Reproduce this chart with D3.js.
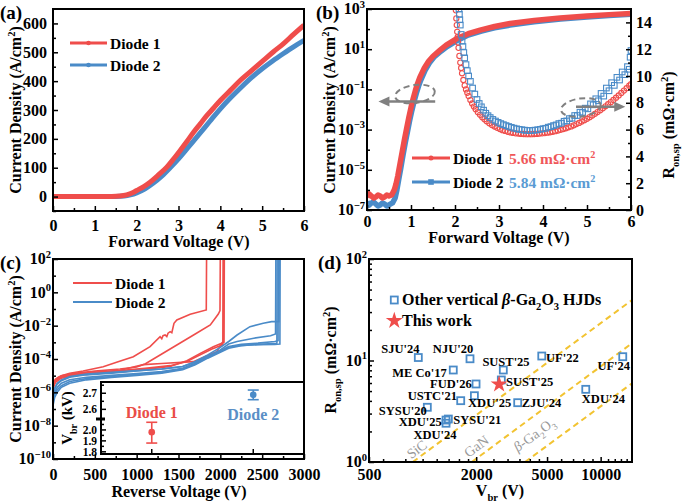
<!DOCTYPE html>
<meta charset="utf-8">
<script src="https://d3js.org/d3.v7.min.js"></script>
<style>
  body { margin: 0; background: #fff; }
  svg text { font-family: "Liberation Serif", "Times New Roman", serif; font-weight: bold; }
</style>
<div id="my_dataviz"></div>
<script>

// ================= data =================
// (a) forward J-V, linear scale  [V, J (A/cm2)]
var fwdD1 = [[0,0],[0.5,0],[1.0,0],[1.4,0.5],[1.6,2],[1.76,6],[1.9,13],[2.0,21],[2.16,34],[2.32,50],[2.52,75],[2.72,102],[2.88,130],[3.04,160],[3.2,191],[3.36,223],[3.52,252],[3.68,281],[3.84,307],[4.0,333],[4.24,368],[4.48,403],[4.76,438],[5.03,472],[5.27,502],[5.51,530],[5.75,562],[6.0,594]];
var fwdD2 = [[0,0],[0.5,0],[1.0,0],[1.5,0.3],[1.7,2],[1.85,6],[2.0,13],[2.2,27],[2.4,47],[2.6,71],[2.8,100],[3.0,131],[3.25,174],[3.5,217],[3.75,261],[4.0,304],[4.25,343],[4.5,379],[4.75,413],[5.0,443],[5.25,470],[5.5,495],[5.75,519],[6.0,541]];

// (b) forward J-V, log scale  [V, log10 J]
var logD1 = [[0,-6.35],[0.05,-6.2],[0.1,-6.3],[0.15,-6.4],[0.2,-6.35],[0.25,-6.25],[0.3,-6.3],[0.35,-6.4],[0.4,-6.35],[0.45,-6.25],[0.5,-6.3],[0.56,-6.25],[0.62,-6.0],[0.66,-5.7],[0.7,-5.3],[0.75,-4.7],[0.8,-4.1],[0.85,-3.5],[0.9,-2.95],[0.95,-2.4],[1.0,-1.9],[1.05,-1.45],[1.1,-1.05],[1.15,-0.7],[1.2,-0.4],[1.3,0.05],[1.4,0.4],[1.5,0.65],[1.66,0.95],[1.8,1.2],[2.04,1.53],[2.3,1.77],[2.57,1.95],[2.9,2.13],[3.25,2.28],[3.8,2.43],[4.39,2.55],[5.0,2.65],[5.5,2.72],[6.0,2.78]];
var logD2 = [[0,-6.6],[0.05,-6.75],[0.1,-6.65],[0.15,-6.6],[0.2,-6.7],[0.25,-6.8],[0.3,-6.75],[0.35,-6.65],[0.4,-6.7],[0.45,-6.8],[0.5,-6.75],[0.58,-6.65],[0.64,-6.4],[0.68,-6.0],[0.72,-5.5],[0.77,-4.9],[0.82,-4.25],[0.87,-3.65],[0.92,-3.1],[0.97,-2.55],[1.02,-2.05],[1.07,-1.6],[1.12,-1.2],[1.17,-0.85],[1.22,-0.55],[1.32,-0.05],[1.42,0.32],[1.52,0.6],[1.68,0.9],[1.82,1.13],[2.06,1.45],[2.3,1.7],[2.6,1.9],[2.9,2.06],[3.25,2.2],[3.8,2.37],[4.4,2.5],[5.0,2.6],[5.5,2.68],[6.0,2.74]];

// (b) specific on-resistance  [V, Ron (mOhm cm2)]
var ronD1 = [[2.0,16.2],[2.01,15.5],[2.02,14.9],[2.03,14.3],[2.04,13.8],[2.05,13.3],[2.06,12.9],[2.07,12.5],[2.08,12.1],[2.1,11.5],[2.12,11.0],[2.14,10.6],[2.16,10.2],[2.19,9.7],[2.22,9.3],[2.25,9.0],[2.28,8.75],[2.31,8.5],[2.35,8.2],[2.39,7.95],[2.43,7.72],[2.47,7.52],[2.52,7.3],[2.57,7.1],[2.62,6.93],[2.67,6.78],[2.72,6.62],[2.78,6.47],[2.84,6.34],[2.9,6.23],[2.96,6.13],[3.02,6.04],[3.08,5.96],[3.14,5.9],[3.2,5.84],[3.26,5.79],[3.32,5.75],[3.38,5.72],[3.44,5.7],[3.5,5.68],[3.56,5.67],[3.62,5.66],[3.68,5.66],[3.74,5.66],[3.8,5.67],[3.86,5.68],[3.92,5.7],[3.98,5.72],[4.04,5.74],[4.1,5.77],[4.16,5.8],[4.22,5.84],[4.28,5.88],[4.34,5.93],[4.4,5.98],[4.46,6.04],[4.52,6.1],[4.58,6.17],[4.64,6.24],[4.7,6.32],[4.76,6.41],[4.82,6.5],[4.88,6.6],[4.94,6.7],[5.0,6.81],[5.06,6.93],[5.12,7.05],[5.18,7.18],[5.24,7.31],[5.3,7.45],[5.36,7.59],[5.42,7.74],[5.48,7.89],[5.54,8.05],[5.6,8.21],[5.66,8.38],[5.72,8.55],[5.78,8.73],[5.84,8.91],[5.9,9.09],[5.96,9.28],[6.0,9.4]];
var ronD2 = [[2.07,16.2],[2.08,15.4],[2.09,15.0],[2.1,14.6],[2.11,14.2],[2.12,13.8],[2.14,13.1],[2.16,12.6],[2.18,12.2],[2.2,11.75],[2.22,11.35],[2.25,10.85],[2.28,10.4],[2.31,10.0],[2.35,9.6],[2.4,9.1],[2.45,8.65],[2.5,8.25],[2.55,7.95],[2.6,7.7],[2.65,7.45],[2.7,7.22],[2.75,7.04],[2.8,6.9],[2.86,6.76],[2.92,6.64],[2.98,6.54],[3.04,6.45],[3.1,6.37],[3.16,6.3],[3.22,6.23],[3.28,6.17],[3.34,6.11],[3.4,6.06],[3.46,6.02],[3.52,5.99],[3.58,5.96],[3.64,5.94],[3.7,5.93],[3.76,5.94],[3.82,5.96],[3.88,5.99],[3.94,6.02],[4.0,6.07],[4.06,6.1],[4.12,6.18],[4.18,6.22],[4.24,6.3],[4.3,6.35],[4.36,6.45],[4.42,6.48],[4.48,6.62],[4.54,6.65],[4.6,6.82],[4.66,6.85],[4.72,7.05],[4.78,7.05],[4.84,7.3],[4.9,7.28],[4.96,7.6],[5.02,7.55],[5.08,7.92],[5.14,7.85],[5.2,8.3],[5.26,8.15],[5.32,8.7],[5.38,8.5],[5.44,9.1],[5.5,8.9],[5.56,9.5],[5.62,9.3],[5.68,9.9],[5.74,9.7],[5.8,10.3],[5.86,10.1],[5.92,10.7],[5.96,10.5],[5.98,11.4],[6.0,11.9]];
var ronMin = ["5.66", "5.84"];

// (c) reverse leakage, 5 sweeps per diode  [V, log10 J]
var revD1 = [
  [[0,-5.6],[20,-5.3],[60,-5.1],[100,-5.0],[200,-4.85],[360,-4.72],[600,-4.46],[760,-4.2],[960,-3.86],[1160,-3.26],[1280,-2.66],[1300,-2.78],[1315,-2.6],[1340,-2.56],[1360,-2.65],[1375,-2.45],[1400,-2.36],[1420,-2.42],[1446,-1.86],[1480,-1.66],[1640,-1.32],[1832,-1.06],[1836,2.5]],
  [[0,-5.5],[30,-5.2],[100,-5.0],[250,-4.86],[500,-4.73],[800,-4.6],[1000,-4.48],[1100,-4.3],[1280,-3.76],[1480,-3.16],[1680,-2.56],[1880,-1.96],[1976,-1.3],[1996,-1.1],[2000,2.5]],
  [[0,-5.7],[30,-5.3],[100,-5.1],[250,-4.95],[500,-4.82],[800,-4.68],[1080,-4.34],[1300,-4.27],[1677,-4.16],[1800,-3.9],[1956,-3.56],[2036,-2.92],[2040,2.5]],
  [[0,-5.8],[30,-5.4],[100,-5.15],[250,-5.0],[500,-4.88],[800,-4.78],[1100,-4.62],[1400,-4.45],[1600,-4.1],[1760,-3.66],[1916,-3.26],[2016,-3.06],[2044,-3.0],[2048,2.5]],
  [[0,-5.5],[30,-5.25],[100,-5.05],[250,-4.92],[500,-4.8],[800,-4.7],[1100,-4.56],[1400,-4.4],[1600,-4.15],[1760,-3.75],[1900,-3.4],[2000,-3.2],[2030,-3.15],[2034,2.5]]
];
var revD2 = [
  [[0,-6.3],[20,-5.8],[50,-5.5],[100,-5.3],[200,-5.1],[400,-4.95],[700,-4.85],[1000,-4.72],[1300,-4.6],[1550,-4.45],[1700,-4.15],[1850,-3.75],[2000,-3.3],[2100,-2.95],[2200,-2.56],[2354,-2.06],[2513,-1.86],[2613,-1.76],[2700,-1.76],[2704,2.5]],
  [[0,-6.5],[20,-6.0],[50,-5.7],[100,-5.45],[200,-5.25],[400,-5.1],[700,-4.98],[1000,-4.88],[1300,-4.75],[1550,-4.55],[1700,-4.25],[1850,-3.85],[2000,-3.45],[2100,-3.1],[2200,-2.95],[2400,-2.75],[2600,-2.6],[2660,-2.5],[2664,2.5]],
  [[0,-6.2],[20,-5.75],[50,-5.45],[100,-5.25],[200,-5.05],[400,-4.9],[700,-4.8],[1000,-4.7],[1300,-4.6],[1550,-4.45],[1700,-4.2],[1850,-3.85],[2000,-3.5],[2100,-3.25],[2250,-3.12],[2450,-3.05],[2650,-2.95],[2690,-2.9],[2693,2.5]],
  [[0,-6.8],[20,-6.3],[50,-6.0],[100,-5.7],[200,-5.45],[400,-5.25],[700,-5.1],[1000,-4.98],[1300,-4.85],[1550,-4.65],[1700,-4.35],[1850,-3.95],[2000,-3.6],[2100,-3.35],[2250,-3.2],[2450,-3.12],[2640,-3.08],[2676,-3.05],[2679,2.5]],
  [[0,-6.6],[20,-6.1],[50,-5.85],[100,-5.6],[200,-5.35],[400,-5.18],[700,-5.05],[1000,-4.93],[1300,-4.8],[1550,-4.6],[1700,-4.3],[1850,-3.9],[2000,-3.55],[2100,-3.3],[2250,-3.18],[2450,-3.14],[2650,-3.12],[2712,-3.1],[2715,2.5]]
];

// (c) inset: breakdown voltage statistics (kV)
var vbrNames = ["Diode 1", "Diode 2"];
var vbrMean = [1.98, 2.69];
var vbrLow = [1.88, 2.66];
var vbrHigh = [2.07, 2.72];

// (d) benchmark
var refNames = ["SJU'24","NJU'20","ME Co'17","FUD'26","USTC'21","XDU'25","SYSU'20","XDU'25","SYSU'21","XDU'24","SUST'25","SUST'25","ZJU'24","UF'22","XDU'24","UF'24"];
var refVbr = [946, 1846, 1487, 1996, 1637, 1954, 1063, 1354, 1395, 1354, 2840, 2768, 3421, 4670, 8250, 13310];
var refRon = [10.7, 10.4, 8.06, 5.87, 4.02, 4.5, 3.46, 2.59, 2.65, 2.41, 8.06, 6.43, 3.84, 11.07, 5.2, 10.9];
var workVbr = 2690, workRon = 5.84;
var limitNames = ["SiC", "GaN", "Ga2O3"];
var limitStart = [[880, 1], [1890, 1], [3760, 1]];
var limitEnd = [[15000, 39.4], [15000, 14.8], [15000, 5.96]];

// ================= layout =================
var red = "#ef4d4b", blue = "#4a8bc8", gray = "#808080", gold = "#f2c331";
var PA = {l: 53, r: 304, t: 9, b: 211};
var PB = {l: 367, r: 631, t: 9, b: 210};
var PC = {l: 53, r: 304, t: 259, b: 459};
var PD = {l: 369, r: 632, t: 259, b: 462};
var PI = {l: 101, r: 304, t: 382, b: 454, brk: 419};
var fsTick = 16, fsTitle = 16, fsLeg = 15.5;

var svg = d3.select("#my_dataviz").append("svg").attr("width", 683).attr("height", 504);
var defs = svg.append("defs");

function clip(id, p) {
  defs.append("clipPath").attr("id", id).append("rect")
    .attr("x", p.l).attr("y", p.t).attr("width", p.r - p.l).attr("height", p.b - p.t);
}
function frame(p) {
  svg.append("rect").attr("x", p.l).attr("y", p.t).attr("width", p.r - p.l).attr("height", p.b - p.t)
    .attr("fill", "none").attr("stroke", "#000").attr("stroke-width", 2);
}
function axis(gen, scale, tr, vals, len, fmt, pad) {
  var a = d3[gen](scale).tickValues(vals).tickSizeInner(-len).tickSizeOuter(0)
    .tickPadding(pad || 0).tickFormat(fmt || function () { return ""; });
  var g = svg.append("g").attr("transform", tr).call(a);
  g.attr("font-size", fsTick);
  g.select(".domain").remove();
  g.selectAll(".tick line").attr("stroke", "#000").attr("stroke-width", 1.5);
  g.selectAll(".tick text").attr("fill", "#000");
  return g;
}
// text with sub/superscripts: parts = [[str, kind]]
function rich(t, parts, fs) {
  var shift = 0;
  parts.forEach(function (p) {
    var kind = p[1] || "";
    var off = kind === "sup" ? -0.4 * fs : kind === "sub" ? 0.3 * fs : 0;
    var s = t.append("tspan").text(p[0]).attr("dy", off - shift);
    shift = off;
    if (kind === "sup" || kind === "sub") s.style("font-size", (0.66 * fs) + "px");
    if (kind === "it") s.style("font-style", "italic");
  });
  return t;
}
function label(x, y, parts, fs, anchor, color) {
  var t = svg.append("text").attr("x", x).attr("y", y).attr("text-anchor", anchor || "start")
    .style("font-size", fs + "px").attr("fill", color || "#000");
  return rich(t, parts, fs);
}
function ytitle(x, y, parts, fs) {
  var t = svg.append("text").attr("transform", "translate(" + x + "," + y + ") rotate(-90)")
    .attr("text-anchor", "middle").style("font-size", fs + "px");
  return rich(t, parts, fs);
}
function powLabels(exps, x, yScale, fs) {
  exps.forEach(function (e) {
    var t = svg.append("text").attr("x", x).attr("y", yScale(Math.pow(10, e)) + 0.33 * fs)
      .attr("text-anchor", "end").style("font-size", fs + "px");
    rich(t, [["10"], [e < 0 ? "\u2212" + (-e) : String(e), "sup"]], fs);
  });
}
var fmtInt = d3.format("d");
var titleJ = [["Current Density (A/cm"], ["2", "sup"], [")"]];
var titleR = [["R"], ["on,sp", "sub"], [" (m\u03a9\u00b7cm"], ["2", "sup"], [")"]];

// ================= (a) =================
clip("ca", PA);
var xa = d3.scaleLinear().domain([0, 6]).range([PA.l, PA.r]);
var ya = d3.scaleLinear().domain([-50, 650]).range([PA.b, PA.t]);
var lineA = d3.line().x(function (d) { return xa(d[0]); }).y(function (d) { return ya(d[1]); }).curve(d3.curveMonotoneX);
var ga = svg.append("g").attr("clip-path", "url(#ca)");
ga.append("path").datum(fwdD2).attr("d", lineA).attr("fill", "none").attr("stroke", blue).attr("stroke-width", 5);
ga.append("path").datum(fwdD1).attr("d", lineA).attr("fill", "none").attr("stroke", red).attr("stroke-width", 5);
axis("axisBottom", xa, "translate(0," + PA.b + ")", [0, 1, 2, 3, 4, 5, 6], 5, fmtInt, 8.5);
axis("axisBottom", xa, "translate(0," + PA.b + ")", [0.5, 1.5, 2.5, 3.5, 4.5, 5.5], 3);
axis("axisLeft", ya, "translate(" + PA.l + ",0)", [0, 100, 200, 300, 400, 500, 600], 5, fmtInt, 6);
axis("axisLeft", ya, "translate(" + PA.l + ",0)", [-50, 50, 150, 250, 350, 450, 550], 3);
frame(PA);
[["Diode 1", red, 43], ["Diode 2", blue, 65]].forEach(function (d) {
  svg.append("line").attr("x1", 70).attr("x2", 107).attr("y1", d[2]).attr("y2", d[2]).attr("stroke", d[1]).attr("stroke-width", 3);
  svg.append("circle").attr("cx", 88.5).attr("cy", d[2]).attr("r", 2.3).attr("fill", d[1]);
  label(110, d[2] + 5.5, [[d[0]]], fsLeg);
});
label(179, 246.5, [["Forward Voltage (V)"]], fsTitle, "middle");
ytitle(21, 110, titleJ, fsTitle);
label(0, 19, [["(a)"]], 19);

// ================= (b) =================
clip("cb", PB);
var xb = d3.scaleLinear().domain([0, 6]).range([PB.l, PB.r]);
var yb = d3.scaleLog().domain([1e-7, 1e3]).range([PB.b, PB.t]);
var yr = d3.scaleLinear().domain([0, 15]).range([PB.b, PB.t]);
var lineB = d3.line().x(function (d) { return xb(d[0]); }).y(function (d) { return yb(Math.pow(10, d[1])); });
var gb = svg.append("g").attr("clip-path", "url(#cb)");
gb.append("path").datum(logD2).attr("d", lineB).attr("fill", "none").attr("stroke", blue).attr("stroke-width", 5.5).attr("stroke-linejoin", "round");
gb.append("path").datum(logD1).attr("d", lineB).attr("fill", "none").attr("stroke", red).attr("stroke-width", 5.5).attr("stroke-linejoin", "round");
gb.append("g").selectAll("circle").data(ronD1).enter().append("circle")
  .attr("cx", function (d) { return xb(d[0]); }).attr("cy", function (d) { return yr(d[1]); })
  .attr("r", 2.6).attr("fill", "none").attr("stroke", red).attr("stroke-width", 1.1);
gb.append("g").selectAll("rect").data(ronD2).enter().append("rect")
  .attr("x", function (d) { return xb(d[0]) - 2.8; }).attr("y", function (d) { return yr(d[1]) - 2.8; })
  .attr("width", 5.6).attr("height", 5.6).attr("fill", "none").attr("stroke", blue).attr("stroke-width", 1.1);

// guide ellipses + arrows
function guide(cx, cy, tipX, startX, ay) {
  svg.append("ellipse").attr("cx", cx).attr("cy", cy).attr("rx", 20).attr("ry", 9)
    .attr("transform", "rotate(-8," + cx + "," + cy + ")")
    .attr("fill", "none").attr("stroke", gray).attr("stroke-width", 2).attr("stroke-dasharray", "6,4");
  var dir = tipX < startX ? -1 : 1;
  svg.append("line").attr("x1", startX).attr("x2", tipX - dir * 8).attr("y1", ay).attr("y2", ay)
    .attr("stroke", gray).attr("stroke-width", 2.5);
  svg.append("path").attr("d", "M" + tipX + "," + ay + "L" + (tipX - dir * 11) + "," + (ay - 5) + "L" + (tipX - dir * 11) + "," + (ay + 5) + "Z")
    .attr("fill", gray);
}
guide(xb(1.09), yb(Math.pow(10, -1.23)), xb(0.26), xb(1.55), yb(Math.pow(10, -1.6)));
guide(xb(4.86), yr(7.65), xb(5.87), xb(4.75), yr(7.7));

axis("axisBottom", xb, "translate(0," + PB.b + ")", [0, 1, 2, 3, 4, 5, 6], 5, fmtInt, 5.5);
axis("axisBottom", xb, "translate(0," + PB.b + ")", [0.5, 1.5, 2.5, 3.5, 4.5, 5.5], 3);
axis("axisLeft", yb, "translate(" + PB.l + ",0)", [1e-7, 1e-5, 1e-3, 1e-1, 1e1, 1e3], 5);
axis("axisLeft", yb, "translate(" + PB.l + ",0)", [1e-6, 1e-4, 1e-2, 1e0, 1e2], 3);
powLabels([3, 1, -1, -3, -5, -7], 365, yb, fsTick);
axis("axisRight", yr, "translate(" + PB.r + ",0)", [0, 2, 4, 6, 8, 10, 12, 14], 5, fmtInt, 5);
axis("axisRight", yr, "translate(" + PB.r + ",0)", [1, 3, 5, 7, 9, 11, 13], 3);
frame(PB);
[["Diode 1", red, 158, "#f0575a", 0], ["Diode 2", blue, 182, "#5a9bd3", 1]].forEach(function (d) {
  svg.append("line").attr("x1", 412).attr("x2", 450).attr("y1", d[2]).attr("y2", d[2]).attr("stroke", d[1]).attr("stroke-width", 3);
  if (d[4] === 0) svg.append("circle").attr("cx", 431).attr("cy", d[2]).attr("r", 2.5).attr("fill", d[1]);
  else svg.append("rect").attr("x", 428.2).attr("y", d[2] - 2.8).attr("width", 5.6).attr("height", 5.6).attr("fill", d[1]);
  label(453, d[2] + 6, [[d[0]]], fsLeg);
  label(509, d[2] + 6, [[ronMin[d[4]] + " m\u03a9\u00b7cm"], ["2", "sup"]], fsLeg, "start", d[3]);
});
label(499, 243, [["Forward Voltage (V)"]], fsTitle, "middle");
ytitle(335, 110, titleJ, fsTitle);
ytitle(674, 125, titleR, fsTitle);
label(316, 19, [["(b)"]], 19);

// ================= (c) =================
clip("cc", PC);
var xc = d3.scaleLinear().domain([0, 3000]).range([PC.l, PC.r]);
var yc = d3.scaleLog().domain([1e-10, 1e2]).range([PC.b, PC.t]);
var lineC = d3.line().x(function (d) { return xc(d[0]); }).y(function (d) { return yc(Math.pow(10, d[1])); });
var gc = svg.append("g").attr("clip-path", "url(#cc)");
revD1.forEach(function (s) {
  gc.append("path").datum(s).attr("d", lineC).attr("fill", "none").attr("stroke", red).attr("stroke-width", 1.6);
});
revD2.forEach(function (s) {
  gc.append("path").datum(s).attr("d", lineC).attr("fill", "none").attr("stroke", blue).attr("stroke-width", 1.6);
});
axis("axisBottom", xc, "translate(0," + PC.b + ")", [0, 500, 1000, 1500, 2000, 2500, 3000], 5, fmtInt, 9.5);
axis("axisBottom", xc, "translate(0," + PC.b + ")", [250, 750, 1250, 1750, 2250, 2750], 3);
axis("axisLeft", yc, "translate(" + PC.l + ",0)", [1e-10, 1e-8, 1e-6, 1e-4, 1e-2, 1e0, 1e2], 5);
axis("axisLeft", yc, "translate(" + PC.l + ",0)", [1e-9, 1e-7, 1e-5, 1e-3, 1e-1, 1e1], 3);
powLabels([2, 0, -2, -4, -6, -8, -10], 51, yc, fsTick);

// inset
var xi = d3.scalePoint().domain(vbrNames).range([PI.l, PI.r]).padding(0.5);
var yiLo = d3.scaleLinear().domain([1.78, 2.1]).range([PI.b, PI.brk]);
var yiHi = d3.scaleLinear().domain([2.54, 2.77]).range([PI.brk, PI.t]);
function yi(v) { return v < 2.3 ? yiLo(v) : yiHi(v); }
svg.append("rect").attr("x", PI.l).attr("y", PI.t).attr("width", PI.r - PI.l).attr("height", PI.b - PI.t).attr("fill", "#fff");
vbrNames.forEach(function (n, i) {
  var c = i === 0 ? red : blue, x = xi(n);
  svg.append("line").attr("x1", x).attr("x2", x).attr("y1", yi(vbrLow[i])).attr("y2", yi(vbrHigh[i])).attr("stroke", c).attr("stroke-width", 1.6);
  [vbrLow[i], vbrHigh[i]].forEach(function (v) {
    svg.append("line").attr("x1", x - 5.5).attr("x2", x + 5.5).attr("y1", yi(v)).attr("y2", yi(v)).attr("stroke", c).attr("stroke-width", 1.6);
  });
  svg.append("circle").attr("cx", x).attr("cy", yi(vbrMean[i])).attr("r", 3.3).attr("fill", c);
  svg.append("line").attr("x1", x).attr("x2", x).attr("y1", PI.b).attr("y2", PI.b - 5).attr("stroke", "#000").attr("stroke-width", 1.5);
});
label(xi("Diode 1"), 418, [["Diode 1"]], 16, "middle", "#ea4d47");
label(xi("Diode 2"), 420, [["Diode 2"]], 16, "middle", "#5a8fc6");
[1.8, 1.9, 2.0, 2.6, 2.7].forEach(function (v) {
  svg.append("line").attr("x1", PI.l).attr("x2", PI.l + 5).attr("y1", yi(v)).attr("y2", yi(v)).attr("stroke", "#000").attr("stroke-width", 1.5);
  label(PI.l - 4, yi(v) + 4, [[d3.format(".1f")(v)]], 11.5, "end");
});
[1.85, 1.95, 2.05, 2.65, 2.75].forEach(function (v) {
  svg.append("line").attr("x1", PI.l).attr("x2", PI.l + 3).attr("y1", yi(v)).attr("y2", yi(v)).attr("stroke", "#000").attr("stroke-width", 1.5);
});
svg.append("rect").attr("x", PI.l).attr("y", PI.t).attr("width", PI.r - PI.l).attr("height", PI.b - PI.t)
  .attr("fill", "none").attr("stroke", "#000").attr("stroke-width", 2);
svg.append("line").attr("x1", PI.l - 5).attr("x2", PI.l + 4).attr("y1", PI.brk).attr("y2", PI.brk).attr("stroke", "#000").attr("stroke-width", 3);
ytitle(72, 418, [["V"], ["br", "sub"], [" (kV)"]], 15);
frame(PC);
[["Diode 1", red, 283], ["Diode 2", blue, 302]].forEach(function (d) {
  svg.append("line").attr("x1", 73).attr("x2", 112).attr("y1", d[2]).attr("y2", d[2]).attr("stroke", d[1]).attr("stroke-width", 2);
  label(115, d[2] + 6, [[d[0]]], fsLeg);
});
label(179, 497, [["Reverse Voltage (V)"]], fsTitle, "middle");
ytitle(21, 359, titleJ, fsTitle);
label(0, 269, [["(c)"]], 19);

// ================= (d) =================
clip("cd", PD);
var xd = d3.scaleLog().domain([500, 15000]).range([PD.l, PD.r]);
var yd = d3.scaleLog().domain([1, 100]).range([PD.b, PD.t]);
var gd = svg.append("g").attr("clip-path", "url(#cd)");
var limLabelV = [985, 2163, 4810], limLabelOff = [8, 10, 12];
limitNames.forEach(function (n, i) {
  var x0 = xd(limitStart[i][0]), y0 = yd(limitStart[i][1]), x1 = xd(limitEnd[i][0]), y1 = yd(limitEnd[i][1]);
  gd.append("line").attr("x1", x0).attr("y1", y0).attr("x2", x1).attr("y2", y1)
    .attr("stroke", gold).attr("stroke-width", 2).attr("stroke-dasharray", "6,4");
  var a = Math.atan2(y1 - y0, x1 - x0);
  var t = (Math.log(limLabelV[i]) - Math.log(limitStart[i][0])) / (Math.log(limitEnd[i][0]) - Math.log(limitStart[i][0]));
  var px = x0 + t * (x1 - x0), py = y0 + t * (y1 - y0);
  var cx = px + limLabelOff[i] * Math.sin(a), cy = py - limLabelOff[i] * Math.cos(a);
  var txt = gd.append("text").attr("transform", "translate(" + cx + "," + cy + ") rotate(" + (a * 180 / Math.PI) + ")")
    .attr("text-anchor", "middle").attr("dy", "0.35em").attr("fill", "#999")
    .style("font-size", "14px").style("font-weight", "normal");
  if (n === "Ga2O3") rich(txt, [["\u03b2", "it"], ["-Ga"], ["2", "sub"], ["O"], ["3", "sub"]], 14);
  else txt.text(n);
});
// label placement next to each square: [dx, dy, anchor]
var refLabelPos = [[-18,-5,"middle"],[-17,-6,"middle"],[-6.6,6.5,"end"],[-4.3,4.5,"end"],[-3.7,-1,"end"],[-6.3,11.8,"start"],[-0.6,7.5,"end"],[-4.3,5.5,"end"],[5,4.5,"start"],[-11,15.5,"middle"],[2.7,-4.5,"middle"],[4.7,6.2,"start"],[4,4.5,"start"],[4.3,6.2,"start"],[17.6,13.2,"middle"],[7.3,13.5,"end"]];
refNames.forEach(function (n, i) {
  var x = xd(refVbr[i]), y = yd(refRon[i]);
  svg.append("rect").attr("x", x - 3.5).attr("y", y - 3.5).attr("width", 7).attr("height", 7)
    .attr("fill", "none").attr("stroke", blue).attr("stroke-width", 1.8);
});
refNames.forEach(function (n, i) {
  var p = refLabelPos[i];
  label(xd(refVbr[i]) + p[0], yd(refRon[i]) + p[1], [[n]], 12.5, p[2]);
});
var star = d3.symbol().type(d3.symbolStar).size(90);
svg.append("path").attr("d", star).attr("transform", "translate(" + xd(workVbr) + "," + yd(workRon) + ")").attr("fill", red);

axis("axisBottom", xd, "translate(0," + PD.b + ")", [500, 2000, 5000, 10000], 5, fmtInt, 6.5);
axis("axisBottom", xd, "translate(0," + PD.b + ")", [600, 800, 1000, 1200, 1400, 1600, 1800, 2500, 3000, 3500, 4000, 4500, 6000, 7000, 8000, 9000, 11000, 12000, 13000, 14000], 3);
axis("axisLeft", yd, "translate(" + PD.l + ",0)", [1, 10, 100], 5);
axis("axisLeft", yd, "translate(" + PD.l + ",0)", [2, 3, 4, 5, 6, 7, 8, 9, 20, 30, 40, 50, 60, 70, 80, 90], 3);
powLabels([2, 1, 0], 367, yd, fsTick);
frame(PD);
svg.append("rect").attr("x", 390.8).attr("y", 296.5).attr("width", 7).attr("height", 7).attr("fill", "none").attr("stroke", blue).attr("stroke-width", 1.8);
label(402, 305, [["Other vertical "], ["\u03b2", "it"], ["-Ga"], ["2", "sub"], ["O"], ["3", "sub"], [" HJDs"]], 16);
svg.append("path").attr("d", star).attr("transform", "translate(394.3,320.7)").attr("fill", red);
label(402, 326, [["This work"]], 16);
label(500, 496, [["V"], ["br", "sub"], [" (V)"]], fsTitle, "middle");
ytitle(336, 360, titleR, fsTitle);
label(318, 269, [["(d)"]], 19);

</script>
